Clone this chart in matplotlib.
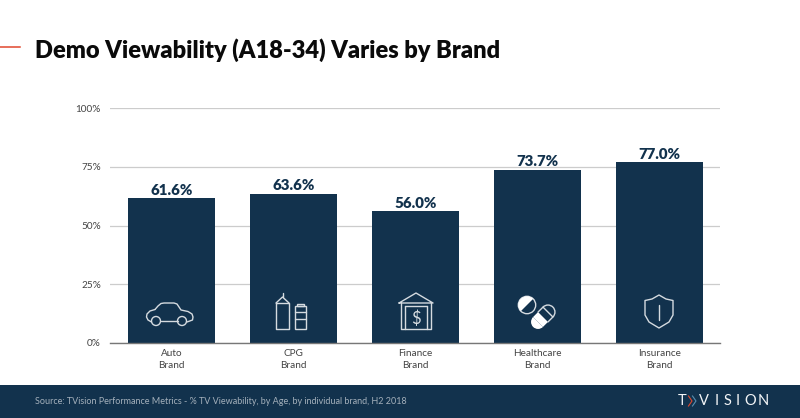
import matplotlib
matplotlib.use('Agg')
import matplotlib.pyplot as plt
from matplotlib.patches import Circle, Rectangle, Wedge, Polygon
from matplotlib.transforms import Affine2D

brands = ['Auto\nBrand', 'CPG\nBrand', 'Finance\nBrand', 'Healthcare\nBrand', 'Insurance\nBrand']
viewability = [61.6, 63.6, 56.0, 73.7, 77.0]
y_ticks = [0, 25, 50, 75, 100]

NAVY = '#12324d'
ICON = '#d5dbe0'

plt.rcParams['font.family'] = ['Lato', 'DejaVu Sans']

fig = plt.figure(figsize=(8, 4.18), dpi=100)
W, H = 800, 418
ax = fig.add_axes([110 / W, 1 - 343 / H, 610 / W, 235 / H])

x = list(range(len(brands)))
ax.bar(x, viewability, width=0.713, color=NAVY, zorder=3)
for i, v in zip(x, viewability):
    ax.text(i, v + 0.6, f'{v:.1f}%', ha='center', va='bottom', fontsize=10.8,
            fontweight='heavy', color=NAVY)

ax.set_xlim(-0.504, 4.496)
ax.set_ylim(0, 100)
ax.set_yticks(y_ticks)
ax.set_yticklabels([f'{t}%' for t in y_ticks], fontsize=7.2, color='#444444')
ax.set_xticks(x)
ax.set_xticklabels(brands, fontsize=7.2, color='#444444', linespacing=1.35)
ax.tick_params(length=0)
ax.tick_params(axis='x', pad=4.5)
ax.tick_params(axis='y', pad=6.5)
ax.grid(axis='y', color='#cccccc', linewidth=0.9, zorder=0)
for s in ['top', 'right', 'left']:
    ax.spines[s].set_visible(False)
ax.spines['bottom'].set_color('#777777')
ax.spines['bottom'].set_linewidth(1)
ax.spines['bottom'].set_zorder(4)

# overlay in pixel coords for header, footer and icons
ov = fig.add_axes([0, 0, 1, 1], zorder=5)
ov.set_xlim(0, W)
ov.set_ylim(H, 0)
ov.axis('off')

ov.plot([0, 20], [47, 47], color='#e0472d', lw=1.1)
ov.text(35, 50, 'Demo Viewability (A18-34) Varies by Brand', fontsize=17.0,
        fontweight='heavy', color='#0a0a0a', va='center', ha='left')

ov.add_patch(Rectangle((0, 385), W, 33, color=NAVY, lw=0))
ov.text(35, 401.5, 'Source: TVision Performance Metrics - % TV Viewability, by Age, by individual brand, H2 2018',
        fontsize=6.5, color='#a4b0bb', va='center', ha='left')

# logo
ov.text(682, 401, 'T', fontsize=10.5, color='#f2f4f6', ha='center', va='center')
ov.plot([688.5, 692, 688.5], [396, 401, 406], color='#e0472d', lw=0.8)
ov.plot([692.5, 696, 692.5], [396, 401, 406], color='#5b8fb0', lw=0.8)
for lx, ch in zip([704, 717, 727, 738, 750, 763], 'VISION'):
    ov.text(lx, 401, ch, fontsize=10.5, color='#f2f4f6', ha='center', va='center')

lw = 1.0
line = dict(color=ICON, lw=lw, solid_joinstyle='round', solid_capstyle='round')


def outline(xs, ys):
    ov.plot(xs, ys, **line)


# car
outline([151.5, 148, 146.5, 147, 150, 155], [322, 320, 317, 314, 311, 309.5])
outline([155, 158, 161, 164, 174, 177, 181, 188, 192, 193, 192.5, 187],
        [309.5, 306, 303.5, 303, 303, 304, 310, 311.5, 314, 317, 320, 322])
outline([160.5, 177.5], [321, 321])
for cx in [156, 182]:
    ov.add_patch(Circle((cx, 321), 4.5, fill=False, ec=ICON, lw=lw))

# bottles
outline([276, 276, 289, 289, 276], [303, 329, 329, 303, 303])
outline([276, 282.5, 289], [303, 297, 303])
outline([282.5, 282.5], [293, 297])
ov.add_patch(Rectangle((294.5, 306), 11.5, 23, fill=False, ec=ICON, lw=lw))
ov.add_patch(Rectangle((296.5, 304), 7.5, 2, fill=False, ec=ICON, lw=lw))
outline([294.5, 306], [312, 312])
outline([294.5, 306], [319, 319])

# bank
outline([399, 416, 433, 399], [303, 293, 303, 303])
outline([401, 401, 431, 431], [303, 329, 329, 303])
outline([405, 405], [306, 329])
outline([427, 427], [306, 329])
outline([405, 427], [306, 306])
ov.text(416, 318.5, '$', fontsize=12, color=ICON, ha='center', va='center')

# pills
ov.add_patch(Circle((527, 305), 8.7, fill=False, ec=ICON, lw=lw))
ov.add_patch(Wedge((527, 305), 8.7, 135, 315, fc='white', ec='white', lw=0))
rot = Affine2D().rotate_deg_around(543, 317, -45) + ov.transData
ov.add_patch(Wedge((550, 317), 7, -90, 90, fc=NAVY, ec=ICON, lw=lw, transform=rot))
ov.plot([543, 550], [310, 310], transform=rot, **line)
ov.plot([543, 550], [324, 324], transform=rot, **line)
ov.add_patch(Rectangle((536, 310), 7, 14, fc='white', ec='white', lw=0, transform=rot))
ov.add_patch(Wedge((536, 317), 7, 90, 270, fc='white', ec='white', lw=0, transform=rot))

# shield
ov.add_patch(Polygon([(659, 295), (666, 299), (673, 300.5), (673, 315), (669, 322), (659, 328),
                      (649, 322), (645, 315), (645, 300.5), (652, 299)],
                     closed=True, fill=False, ec=ICON, lw=lw, joinstyle='round'))
outline([659, 659], [305, 320])

fig.savefig('out.png', dpi=100, facecolor='white')
